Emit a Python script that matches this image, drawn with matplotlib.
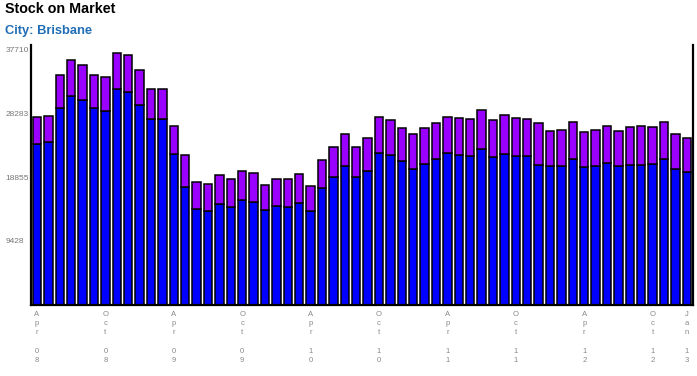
import matplotlib
matplotlib.use("Agg")
import matplotlib.pyplot as plt
import numpy as np

plt.rcParams['font.family'] = ['Liberation Sans', 'DejaVu Sans']

# monthly stock on market, Apr 2008 .. Jan 2013
months = ["Apr 08", "May 08", "Jun 08", "Jul 08", "Aug 08", "Sep 08",
          "Oct 08", "Nov 08", "Dec 08", "Jan 09", "Feb 09", "Mar 09",
          "Apr 09", "May 09", "Jun 09", "Jul 09", "Aug 09", "Sep 09",
          "Oct 09", "Nov 09", "Dec 09", "Jan 10", "Feb 10", "Mar 10",
          "Apr 10", "May 10", "Jun 10", "Jul 10", "Aug 10", "Sep 10",
          "Oct 10", "Nov 10", "Dec 10", "Jan 11", "Feb 11", "Mar 11",
          "Apr 11", "May 11", "Jun 11", "Jul 11", "Aug 11", "Sep 11",
          "Oct 11", "Nov 11", "Dec 11", "Jan 12", "Feb 12", "Mar 12",
          "Apr 12", "May 12", "Jun 12", "Jul 12", "Aug 12", "Sep 12",
          "Oct 12", "Nov 12", "Dec 12", "Jan 13"]

# blue (lower) segment
lower = [23715, 23966, 28974, 30786, 30152, 28974, 28532, 31773, 31331, 29416,
         27354, 27354, 22198, 17337, 14097, 13802, 14921, 14391, 15422, 15128,
         13949, 14539, 14391, 14980, 13802, 17234, 18854, 20431, 18854, 19738,
         22345, 22095, 21167, 19989, 20725, 21506, 22345, 22051, 21904, 22935,
         21756, 22198, 21904, 21904, 20578, 20431, 20431, 21462, 20283, 20431,
         20872, 20431, 20578, 20578, 20725, 21462, 19989, 19547]

# total (top of purple segment)
total = [27692, 27840, 33879, 36044, 35352, 33879, 33540, 37164, 36825, 34571,
         31773, 31773, 26323, 22095, 18074, 17779, 19105, 18516, 19694, 19399,
         17632, 18516, 18516, 19252, 17485, 21314, 23229, 25188, 23229, 24555,
         27692, 27206, 26072, 25144, 26028, 26764, 27692, 27501, 27354, 28679,
         27206, 27943, 27501, 27354, 26809, 25586, 25733, 26912, 25439, 25733,
         26323, 25586, 26175, 26323, 26175, 26912, 25144, 24555]

yticks = [9428, 18855, 28283, 37710]
label_idx = [0, 6, 12, 18, 24, 30, 36, 42, 48, 54, 57]

lower = np.array(lower)
total = np.array(total)
x = np.arange(len(months))

fig = plt.figure(figsize=(6.97, 3.76), dpi=100)
ax = fig.add_axes([31/697, 71/376, 662/697, 260/376])

ax.bar(x, lower, width=0.74, color='#0000ff', edgecolor='black', linewidth=1.1)
ax.bar(x, total - lower, bottom=lower, width=0.74, color='#9900ff',
       edgecolor='black', linewidth=1.1)

ax.set_xlim(-0.53, len(months) - 0.46)
ax.set_ylim(0, 38300)

for s in ['left', 'bottom', 'right']:
    ax.spines[s].set_linewidth(1.6)
ax.spines['top'].set_visible(False)

ax.set_yticks(yticks)
ax.set_yticklabels([str(v) for v in yticks], fontsize=6, color='#777777')
ax.tick_params(axis='y', length=0, pad=18.5)
for t in ax.get_yticklabels():
    t.set_horizontalalignment('left')

ax.set_xticks(x[label_idx])
ax.set_xticklabels(["\n".join(months[i].replace(" ", "\u00a0")).replace("\u00a0", "")
                    for i in label_idx], fontsize=5.5, color='#888888')
ax.tick_params(axis='x', length=0, pad=4)
for t in ax.get_xticklabels():
    t.set_linespacing(1.45)

fig.text(5/697, 1 - 9/376, "Stock on Market", fontsize=10.3, fontweight='bold',
         color='black', va='center', ha='left')
fig.text(5/697, 1 - 31/376, "City: Brisbane", fontsize=9.3, fontweight='bold',
         color='#1f6db5', va='center', ha='left')

fig.savefig("out.png", dpi=100)
